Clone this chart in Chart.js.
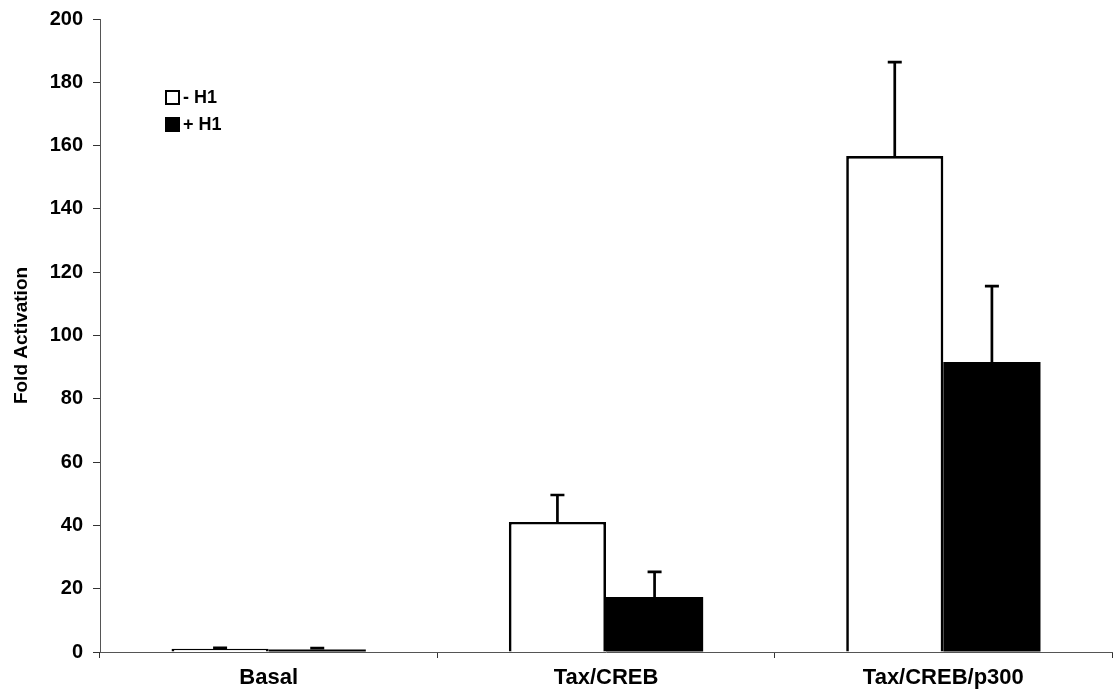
<!DOCTYPE html>
<html><head><meta charset="utf-8">
<script src="https://cdn.jsdelivr.net/npm/chart.js@4.4.1/dist/chart.umd.min.js"></script>
<style>html,body{margin:0;padding:0;background:#fff}#w{width:1114px;height:695px}</style>
</head><body><div id="w"><canvas id="c"></canvas></div>
<script>
const categories = ["Basal", "Tax/CREB", "Tax/CREB/p300"];
const seriesLabels = ["- H1", "+ H1"];
const minusH1 = [1.0, 41.1, 156.7];
const plusH1 = [0.8, 17.4, 91.6];
const minusH1Err = [0.3, 8.5, 29.7];
const plusH1Err = [0.4, 7.9, 24.0];
const yTicks = [0, 20, 40, 60, 80, 100, 120, 140, 160, 180, 200];

const FONT = "'Liberation Sans', Arial, sans-serif";

const errPlugin = {
  id: 'errbars',
  afterDatasetsDraw(chart) {
    const ctx = chart.ctx, y = chart.scales.y;
    const errs = [minusH1Err, plusH1Err];
    chart.data.datasets.forEach((ds, i) => {
      const meta = chart.getDatasetMeta(i);
      meta.data.forEach((bar, j) => {
        const top = y.getPixelForValue(ds.data[j] + errs[i][j]);
        ctx.save();
        ctx.strokeStyle = '#000';
        ctx.lineWidth = 2.7;
        ctx.beginPath();
        ctx.moveTo(bar.x, bar.y);
        ctx.lineTo(bar.x, top);
        ctx.moveTo(bar.x - 7, top);
        ctx.lineTo(bar.x + 7, top);
        ctx.stroke();
        ctx.restore();
      });
    });
  }
};

const legendPlugin = {
  id: 'insideLegend',
  afterDraw(chart) {
    const ctx = chart.ctx;
    const x0 = 165, ys = [97, 124];
    chart.data.datasets.forEach((ds, i) => {
      ctx.save();
      const yc = ys[i];
      ctx.fillStyle = ds.backgroundColor;
      ctx.fillRect(x0, yc - 7, 15, 15);
      ctx.strokeStyle = '#000';
      ctx.lineWidth = 2;
      ctx.strokeRect(x0 + 1, yc - 6, 13, 13);
      ctx.fillStyle = '#000';
      ctx.font = "bold 18px " + FONT;
      ctx.textBaseline = 'middle';
      ctx.fillText(ds.label, x0 + 18, yc + 1);
      ctx.restore();
    });
  }
};

new Chart(document.getElementById('c'), {
  type: 'bar',
  data: {
    labels: categories,
    datasets: [
      { label: seriesLabels[0], data: minusH1, backgroundColor: '#fff', borderColor: '#000', borderWidth: 2.7 },
      { label: seriesLabels[1], data: plusH1, backgroundColor: '#000', borderColor: '#000', borderWidth: 0 }
    ]
  },
  options: {
    responsive: true,
    maintainAspectRatio: false,
    animation: false,
    layout: { padding: { top: 19, right: 2, left: 0, bottom: 0 } },
    datasets: { bar: { categoryPercentage: 0.576, barPercentage: 1.0 } },
    plugins: { legend: { display: false }, tooltip: { enabled: false } },
    scales: {
      x: {
        grid: { display: true, offset: true, drawOnChartArea: false, drawTicks: true, tickLength: 6, color: '#333' },
        border: { display: true, color: '#555', width: 1, dash: [3, 1] },
        ticks: { color: '#000', font: { family: FONT, size: 22, weight: 'bold' }, padding: 7 },
        afterFit(s) { s.height = 43; }
      },
      y: {
        min: 0, max: 200,
        afterBuildTicks(s) { s.ticks = yTicks.map(v => ({ value: v })); },
        grid: { display: true, drawOnChartArea: false, drawTicks: true, tickLength: 7, color: '#333' },
        border: { display: true, color: '#555', width: 1, dash: [3, 1] },
        ticks: { color: '#000', font: { family: FONT, size: 20, weight: 'bold', lineHeight: 1.0 }, padding: 10 },
        title: { display: true, text: 'Fold Activation', color: '#000', font: { family: FONT, size: 19, weight: 'bold' }, padding: { top: 10, bottom: 0 } },
        afterFit(s) { s.width = 100; s.paddingTop = 0; }
      }
    }
  },
  plugins: [errPlugin, legendPlugin]
});
</script>
</body></html>
